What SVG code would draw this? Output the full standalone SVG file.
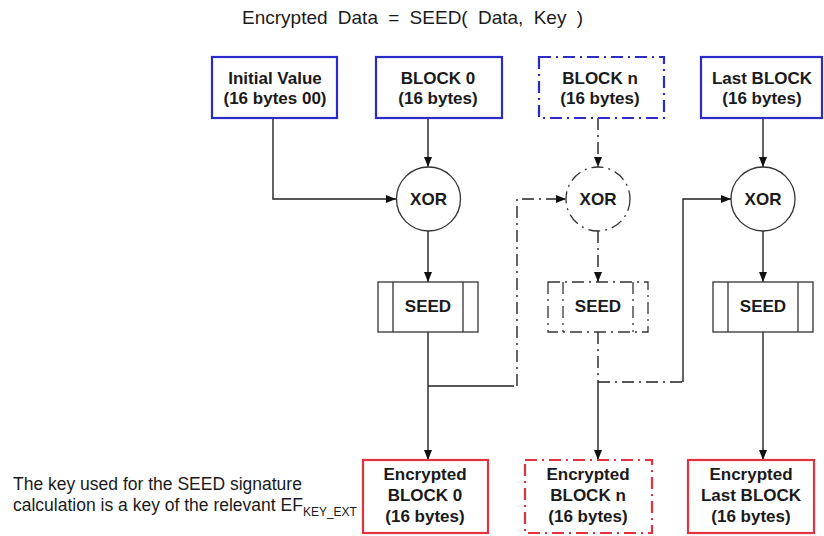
<svg xmlns="http://www.w3.org/2000/svg" width="824" height="536" viewBox="0 0 824 536">
<style>
text{font-family:"Liberation Sans",Arial,sans-serif;fill:#1a1a1a}
.lbl{font-size:17px;font-weight:bold;text-anchor:middle}
.blue{fill:#fff;stroke:#2b2bcc;stroke-width:2.2}
.red{fill:#fff;stroke:#e2323f;stroke-width:2.2}
.dd{stroke-dasharray:12 5 2 5}
.ln{fill:none;stroke:#222;stroke-width:1.4}
.node{fill:#fff;stroke:#333;stroke-width:1.3}
</style>
<defs>
<marker id="ah" markerWidth="10" markerHeight="10" refX="10" refY="5" orient="auto" markerUnits="userSpaceOnUse">
<path d="M0,1 L10,5 L0,9 Z" fill="#111"/>
</marker>
</defs>
<rect width="824" height="536" fill="#fff"/>
<text x="242" y="24" font-size="19" word-spacing="5">Encrypted Data = SEED( Data, Key )</text>

<g id="connectors">
<path class="ln" d="M273,118 V199 H396" marker-end="url(#ah)"/>
<path class="ln" d="M428,118 V167" marker-end="url(#ah)"/>
<path class="ln" d="M428,231 V282" marker-end="url(#ah)"/>
<path class="ln" d="M428,332 V460" marker-end="url(#ah)"/>
<path class="ln" d="M428,386 H514"/>
<path class="ln dd" d="M517,386 V199 H566" marker-end="url(#ah)"/>
<path class="ln dd" d="M598,118 V167" marker-end="url(#ah)"/>
<path class="ln dd" d="M598,231 V282" marker-end="url(#ah)"/>
<path class="ln dd" d="M598,332 V382"/>
<path class="ln" d="M598,382 V460" marker-end="url(#ah)"/>
<path class="ln dd" d="M598,382 H683"/>
<path class="ln" d="M683,382 V199 H731" marker-end="url(#ah)"/>
<path class="ln" d="M763,118 V167" marker-end="url(#ah)"/>
<path class="ln" d="M763,231 V282" marker-end="url(#ah)"/>
<path class="ln" d="M763,332 V460" marker-end="url(#ah)"/>
</g>

<g id="iv">
<rect class="blue" x="212" y="57" width="125" height="61"/>
<text class="lbl" x="275" y="84">Initial Value</text>
<text class="lbl" x="275" y="104">(16 bytes 00)</text>
</g>
<g id="block0">
<rect class="blue" x="376" y="57" width="126" height="61"/>
<text class="lbl" x="438" y="84">BLOCK 0</text>
<text class="lbl" x="438" y="104">(16 bytes)</text>
</g>
<g id="blockn">
<rect class="blue dd" x="539" y="57" width="125" height="61"/>
<text class="lbl" x="600" y="84">BLOCK n</text>
<text class="lbl" x="600" y="104">(16 bytes)</text>
</g>
<g id="blocklast">
<rect class="blue" x="701" y="57" width="121" height="61"/>
<text class="lbl" x="762" y="84">Last BLOCK</text>
<text class="lbl" x="762" y="104">(16 bytes)</text>
</g>

<g id="xor0">
<circle class="node" cx="428.5" cy="199" r="32"/>
<text class="lbl" x="428.5" y="205">XOR</text>
</g>
<g id="xorn">
<circle class="node dd" cx="598" cy="199" r="32"/>
<text class="lbl" x="598" y="205">XOR</text>
</g>
<g id="xorlast">
<circle class="node" cx="763" cy="199" r="32"/>
<text class="lbl" x="763" y="205">XOR</text>
</g>

<g id="seed0">
<rect class="node" x="378" y="282" width="100" height="50"/>
<path class="node" d="M393,282 V332 M463,282 V332"/>
<text class="lbl" x="428" y="312">SEED</text>
</g>
<g id="seedn">
<rect class="node dd" x="548" y="282" width="100" height="50"/>
<path class="node dd" d="M563,282 V332 M633,282 V332"/>
<text class="lbl" x="598" y="312">SEED</text>
</g>
<g id="seedlast">
<rect class="node" x="713" y="282" width="100" height="50"/>
<path class="node" d="M728,282 V332 M798,282 V332"/>
<text class="lbl" x="763" y="312">SEED</text>
</g>

<g id="enc0">
<rect class="red" x="363" y="460" width="125" height="73"/>
<text class="lbl" x="425" y="480">Encrypted</text>
<text class="lbl" x="425" y="501">BLOCK 0</text>
<text class="lbl" x="425" y="522">(16 bytes)</text>
</g>
<g id="encn">
<rect class="red dd" x="525" y="460" width="127" height="73"/>
<text class="lbl" x="588" y="480">Encrypted</text>
<text class="lbl" x="588" y="501">BLOCK n</text>
<text class="lbl" x="588" y="522">(16 bytes)</text>
</g>
<g id="enclast">
<rect class="red" x="688" y="460" width="126" height="73"/>
<text class="lbl" x="751" y="480">Encrypted</text>
<text class="lbl" x="751" y="501">Last BLOCK</text>
<text class="lbl" x="751" y="522">(16 bytes)</text>
</g>

<g id="note">
<text x="13" y="490" font-size="17.5" fill="#333">The key used for the SEED signature</text>
<text x="13" y="511" font-size="17.5" fill="#333">calculation is a key of the relevant EF<tspan font-size="12" dy="5">KEY_EXT</tspan></text>
</g>
</svg>
